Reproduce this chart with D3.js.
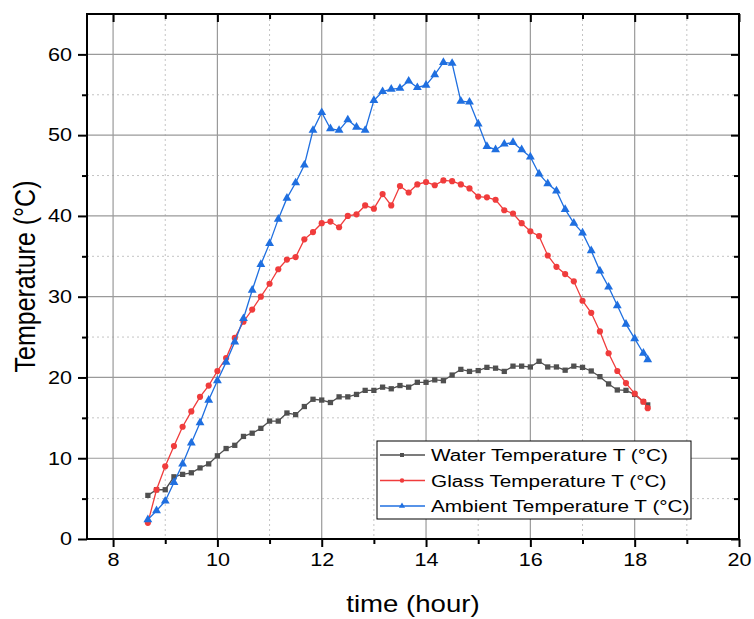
<!DOCTYPE html>
<html>
<head>
<meta charset="utf-8">
<script src="https://cdn.jsdelivr.net/npm/d3@7"></script>
<style>
  body { margin: 0; background: #fff; }
  svg { display: block; font-family: Arial, "Liberation Sans", sans-serif; }
</style>
</head>
<body>
<div id="chart"></div>
<script>
// time of day (hours), one reading every 10 minutes, last one at 18:15
var hours = [8.667, 8.833, 9.0, 9.167, 9.333, 9.5, 9.667, 9.833, 10.0, 10.167,
  10.333, 10.5, 10.667, 10.833, 11.0, 11.167, 11.333, 11.5, 11.667, 11.833,
  12.0, 12.167, 12.333, 12.5, 12.667, 12.833, 13.0, 13.167, 13.333, 13.5,
  13.667, 13.833, 14.0, 14.167, 14.333, 14.5, 14.667, 14.833, 15.0, 15.167,
  15.333, 15.5, 15.667, 15.833, 16.0, 16.167, 16.333, 16.5, 16.667, 16.833,
  17.0, 17.167, 17.333, 17.5, 17.667, 17.833, 18.0, 18.167, 18.25];

var waterTemp = [5.4, 6.1, 6.1, 7.7, 8.0, 8.2, 8.8, 9.3, 10.3, 11.2,
  11.6, 12.7, 13.1, 13.7, 14.6, 14.6, 15.6, 15.4, 16.4, 17.3,
  17.2, 16.9, 17.6, 17.6, 17.9, 18.4, 18.4, 18.8, 18.6, 19.0,
  18.8, 19.4, 19.4, 19.7, 19.6, 20.3, 21.0, 20.75, 20.85, 21.25,
  21.15, 20.75, 21.4, 21.4, 21.3, 22.0, 21.3, 21.3, 20.9, 21.4,
  21.25, 20.8, 20.1, 19.2, 18.45, 18.4, 17.9, 17.0, 16.6];

var glassTemp = [2.0, 6.1, 9.0, 11.5, 13.9, 15.8, 17.6, 19.0, 20.8, 22.4,
  24.9, 26.9, 28.4, 30.0, 31.6, 33.4, 34.6, 34.9, 37.1, 38.0,
  39.1, 39.3, 38.6, 40.0, 40.2, 41.3, 40.9, 42.7, 41.3, 43.7,
  42.9, 43.9, 44.2, 43.8, 44.4, 44.3, 43.9, 43.4, 42.4, 42.3,
  42.0, 40.7, 40.3, 39.1, 38.1, 37.5, 35.1, 33.7, 32.8, 31.9,
  29.5, 28.0, 25.7, 23.0, 20.8, 19.3, 18.0, 17.0, 16.2];

var ambientTemp = [2.4, 3.5, 4.7, 7.0, 9.3, 11.9, 14.4, 17.2, 19.6, 21.9,
  24.4, 27.3, 30.8, 34.0, 36.6, 39.6, 42.2, 44.1, 46.3, 50.6,
  52.8, 50.8, 50.6, 51.9, 51.0, 50.6, 54.3, 55.4, 55.7, 55.8,
  56.7, 55.9, 56.2, 57.5, 59.0, 58.9, 54.2, 54.1, 51.4, 48.6,
  48.2, 48.9, 49.1, 48.2, 47.3, 45.2, 44.0, 43.1, 40.8, 39.1,
  37.9, 35.7, 33.2, 31.2, 28.9, 26.6, 24.8, 23.0, 22.2];

var seriesNames = ["Water Temperature T (°C)", "Glass Temperature T (°C)", "Ambient Temperature T (°C)"];
var seriesColors = ["#505050", "#f03c3c", "#1f6fe0"];
var seriesSymbols = [d3.symbolSquare, d3.symbolCircle, d3.symbolTriangle];

var xMajor = [8, 10, 12, 14, 16, 18, 20];
var xMinor = [9, 11, 13, 15, 17, 19];
var yMajor = [0, 10, 20, 30, 40, 50, 60];
var yMinor = [5, 15, 25, 35, 45, 55];

var width = 754, height = 619;
var plot = {left: 87, right: 739, top: 14, bottom: 539};
var sx = 1.2; // the original is a bit stretched sideways

var x = d3.scaleLinear().domain([7.5, 20]).range([plot.left, plot.right]);
var y = d3.scaleLinear().domain([0, 65]).range([plot.bottom, plot.top]);

var svg = d3.select("#chart").append("svg")
  .attr("width", width).attr("height", height);

// grid
var grid = svg.append("g").attr("class", "grid");
grid.selectAll(".vminor").data(xMinor).enter().append("line")
  .attr("x1", function(d){return x(d)}).attr("x2", function(d){return x(d)})
  .attr("y1", plot.top).attr("y2", plot.bottom)
  .attr("stroke", "#c4c4c4").attr("stroke-dasharray", "2,3");
grid.selectAll(".hminor").data(yMinor).enter().append("line")
  .attr("y1", function(d){return y(d)}).attr("y2", function(d){return y(d)})
  .attr("x1", plot.left).attr("x2", plot.right)
  .attr("stroke", "#c4c4c4").attr("stroke-dasharray", "2,3");
grid.selectAll(".vmajor").data(xMajor.slice(0, -1)).enter().append("line")
  .attr("x1", function(d){return x(d)}).attr("x2", function(d){return x(d)})
  .attr("y1", plot.top).attr("y2", plot.bottom)
  .attr("stroke", "#9a9a9a").attr("stroke-width", 1.2);
grid.selectAll(".hmajor").data(yMajor.slice(1)).enter().append("line")
  .attr("y1", function(d){return y(d)}).attr("y2", function(d){return y(d)})
  .attr("x1", plot.left).attr("x2", plot.right)
  .attr("stroke", "#9a9a9a").attr("stroke-width", 1.2);

// series
var series = [waterTemp, glassTemp, ambientTemp].map(function(vals, i){
  return {
    name: seriesNames[i], color: seriesColors[i], symbol: seriesSymbols[i],
    points: vals.map(function(v, j){ return {t: hours[j], v: v}; })
  };
});

var line = d3.line().x(function(d){return x(d.t)}).y(function(d){return y(d.v)});

var sg = svg.selectAll(".series").data(series).enter().append("g").attr("class", "series");
sg.append("path")
  .attr("d", function(d){return line(d.points)})
  .attr("fill", "none")
  .attr("stroke", function(d){return d.color})
  .attr("stroke-width", 1.3);
sg.each(function(s){
  d3.select(this).selectAll("path.mark").data(s.points).enter().append("path")
    .attr("class", "mark")
    .attr("d", d3.symbol().type(s.symbol).size(symbolSize(s.symbol)))
    .attr("transform", function(d){return "translate(" + x(d.t) + "," + y(d.v) + ")"})
    .attr("fill", s.color);
});

function symbolSize(sym){
  if (sym === d3.symbolTriangle) return 34;
  if (sym === d3.symbolCircle) return 30;
  return 28;
}

// axes: outward ticks bottom/left, inward ticks top/right
function styleAxis(g){
  g.select(".domain").remove();
  g.selectAll("line").attr("stroke", "#000").attr("stroke-width", 2);
  g.selectAll("text").attr("fill", "#000").style("font-size", "18px");
}

var bottomAxis = svg.append("g").attr("transform", "translate(0," + plot.bottom + ")")
  .call(d3.axisBottom(x).tickValues(xMajor).tickSize(8).tickPadding(6).tickFormat(d3.format("d")))
  .call(styleAxis);
bottomAxis.selectAll("text").attr("transform", "scale(" + sx + ",1)");
svg.append("g").attr("transform", "translate(0," + plot.bottom + ")")
  .call(d3.axisBottom(x).tickValues(xMinor).tickSize(5).tickFormat(""))
  .call(styleAxis);

var leftAxis = svg.append("g").attr("transform", "translate(" + plot.left + ",0)")
  .call(d3.axisLeft(y).tickValues(yMajor).tickSize(9).tickFormat(d3.format("d")))
  .call(styleAxis);
leftAxis.selectAll("text")
  .attr("x", -15 / sx)
  .attr("transform", "scale(" + sx + ",1)");
svg.append("g").attr("transform", "translate(" + plot.left + ",0)")
  .call(d3.axisLeft(y).tickValues(yMinor).tickSize(5).tickFormat(""))
  .call(styleAxis);

svg.append("g").attr("transform", "translate(0," + plot.top + ")")
  .call(d3.axisTop(x).tickValues(xMajor).tickSize(-8).tickFormat(""))
  .call(styleAxis);
svg.append("g").attr("transform", "translate(0," + plot.top + ")")
  .call(d3.axisTop(x).tickValues(xMinor).tickSize(-5).tickFormat(""))
  .call(styleAxis);
svg.append("g").attr("transform", "translate(" + plot.right + ",0)")
  .call(d3.axisRight(y).tickValues(yMajor).tickSize(-8).tickFormat(""))
  .call(styleAxis);
svg.append("g").attr("transform", "translate(" + plot.right + ",0)")
  .call(d3.axisRight(y).tickValues(yMinor).tickSize(-5).tickFormat(""))
  .call(styleAxis);

// frame
svg.append("rect")
  .attr("x", plot.left).attr("y", plot.top)
  .attr("width", plot.right - plot.left).attr("height", plot.bottom - plot.top)
  .attr("fill", "none").attr("stroke", "#000").attr("stroke-width", 2);

// axis titles
svg.append("text")
  .attr("transform", "translate(" + (plot.left + plot.right) / 2 + ",612) scale(" + sx + ",1)")
  .attr("text-anchor", "middle").style("font-size", "23px")
  .text("time (hour)");
svg.append("text")
  .attr("transform", "translate(35," + (plot.top + plot.bottom) / 2 + ") scale(" + sx + ",1) rotate(-90)")
  .attr("text-anchor", "middle").style("font-size", "25px")
  .text("Temperature (°C)");

// legend
var legend = svg.append("g").attr("transform", "translate(377,441)");
legend.append("rect")
  .attr("width", 314).attr("height", 78)
  .attr("fill", "#fff").attr("stroke", "#000").attr("stroke-width", 1);
var items = legend.selectAll(".item").data(series).enter().append("g")
  .attr("transform", function(d, i){return "translate(0," + (14 + i * 25.5) + ")"});
items.append("line")
  .attr("x1", 3).attr("x2", 48)
  .attr("stroke", function(d){return d.color}).attr("stroke-width", 1.3);
items.append("path")
  .attr("d", function(d){return d3.symbol().type(d.symbol).size(16)()})
  .attr("transform", "translate(25,0)")
  .attr("fill", function(d){return d.color});
items.append("text")
  .attr("transform", "translate(54,6) scale(" + sx + ",1)")
  .style("font-size", "17.3px")
  .text(function(d){return d.name});
</script>
</body>
</html>
